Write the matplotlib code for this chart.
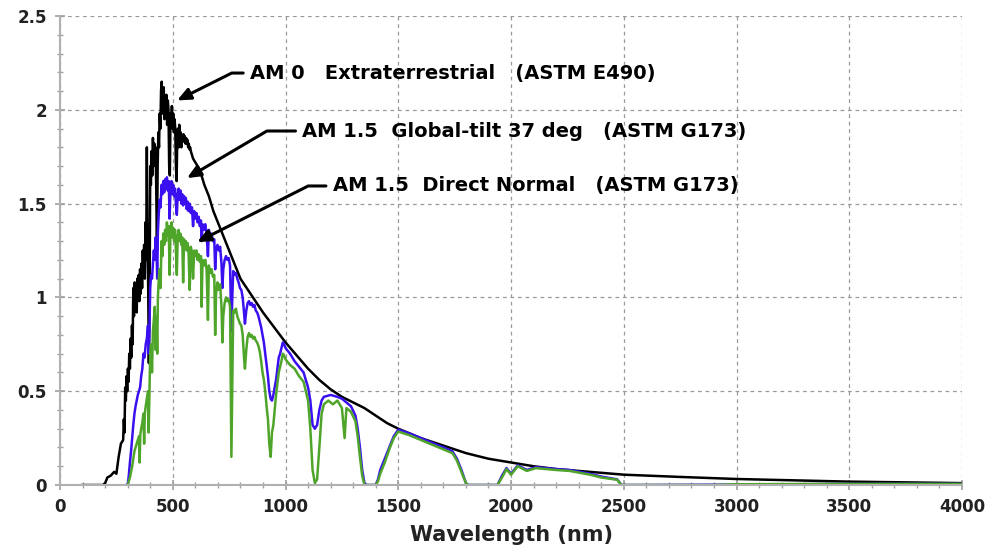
import matplotlib
matplotlib.use("Agg")
import matplotlib.pyplot as plt
from matplotlib.ticker import MultipleLocator

# spectral irradiance: (wavelength nm, W m-2 nm-1)
# AM 0 extraterrestrial (ASTM E490)
am0 = [(100, 0), (150, 0), (190, 0), (200, 0.01), (210, 0.04), (225, 0.05), (240, 0.07), (250, 0.06),
       (260, 0.15), (270, 0.22), (280, 0.24), (283, 0.35), (286, 0.28), (289, 0.52), (292, 0.45),
       (295, 0.58), (298, 0.50), (301, 0.62), (304, 0.55), (307, 0.70), (310, 0.62), (313, 0.78),
       (316, 0.68), (319, 0.85), (322, 0.75), (325, 1.05), (328, 0.90), (331, 1.08), (334, 0.95),
       (337, 1.05), (340, 0.92), (343, 1.10), (346, 1.00), (349, 1.12), (352, 0.98), (355, 1.15),
       (358, 1.02), (361, 1.18), (364, 1.05), (367, 1.25), (370, 1.12), (373, 1.28), (376, 1.10),
       (379, 1.40), (382, 1.20), (385, 1.80), (388, 1.30), (391, 1.05), (394, 0.65), (397, 0.95),
       (400, 1.70), (403, 1.60), (406, 1.78), (409, 1.65), (412, 1.85), (415, 1.70), (418, 1.82),
       (421, 1.72), (424, 1.80), (427, 1.55), (430, 1.25), (433, 1.70), (436, 1.88), (439, 1.80),
       (442, 1.98), (445, 1.90), (448, 2.10), (451, 2.15), (454, 1.98), (457, 2.08), (460, 2.12),
       (463, 1.95), (466, 2.05), (469, 2.00), (472, 2.08), (475, 1.92), (478, 2.05), (481, 2.00),
       (484, 1.70), (487, 1.65), (490, 1.98), (493, 1.92), (496, 2.02), (499, 1.90), (502, 1.98),
       (505, 1.88), (508, 1.95), (511, 1.90), (514, 1.70), (517, 1.62), (520, 1.85), (523, 1.90),
       (526, 1.80), (529, 1.92), (532, 1.85), (535, 1.88), (538, 1.80), (541, 1.86), (544, 1.84),
       (547, 1.87), (550, 1.83), (553, 1.86), (556, 1.82), (559, 1.85), (562, 1.82), (565, 1.84),
       (568, 1.80), (571, 1.82), (574, 1.79), (577, 1.80), (580, 1.78), (585, 1.76), (590, 1.74),
       (600, 1.72), (620, 1.68), (640, 1.60), (660, 1.54), (680, 1.46), (700, 1.40), (720, 1.34),
       (750, 1.25), (780, 1.16), (800, 1.10), (850, 1.01), (900, 0.92), (950, 0.84), (1000, 0.76),
       (1050, 0.69), (1100, 0.62), (1150, 0.56), (1200, 0.51), (1250, 0.47), (1300, 0.44),
       (1350, 0.41), (1400, 0.37), (1450, 0.33), (1500, 0.30), (1600, 0.25), (1700, 0.21),
       (1800, 0.17), (1900, 0.14), (2000, 0.12), (2100, 0.10), (2200, 0.085), (2300, 0.075),
       (2400, 0.065), (2500, 0.055), (2750, 0.043), (3000, 0.032), (3250, 0.025), (3500, 0.018),
       (3750, 0.014), (4000, 0.010)]

# AM 1.5 global tilt 37 deg (ASTM G173)
am15_global = [(295, 0), (300, 0), (305, 0.05), (310, 0.12), (315, 0.18), (320, 0.25), (325, 0.32),
               (330, 0.38), (335, 0.42), (340, 0.45), (345, 0.48), (350, 0.50), (355, 0.52), (360, 0.58),
               (365, 0.62), (370, 0.70), (375, 0.68), (380, 0.75), (385, 0.78), (390, 0.85), (393, 0.70),
               (396, 0.80), (400, 1.05), (404, 1.12), (408, 1.10), (412, 1.18), (416, 1.25), (420, 1.20),
               (424, 1.32), (428, 1.25), (431, 1.10), (434, 1.35), (438, 1.45), (442, 1.52), (446, 1.48),
               (450, 1.60), (454, 1.55), (458, 1.62), (462, 1.56), (466, 1.63), (470, 1.58), (474, 1.64),
               (478, 1.57), (482, 1.62), (486, 1.42), (490, 1.58), (494, 1.62), (498, 1.55), (502, 1.60),
               (506, 1.54), (510, 1.58), (514, 1.50), (518, 1.44), (522, 1.55), (526, 1.58), (530, 1.52),
               (534, 1.57), (538, 1.50), (542, 1.55), (546, 1.49), (550, 1.54), (554, 1.50), (558, 1.53),
               (562, 1.47), (566, 1.51), (570, 1.46), (575, 1.50), (580, 1.45), (585, 1.48), (590, 1.38),
               (595, 1.46), (600, 1.42), (605, 1.45), (610, 1.40), (615, 1.43), (620, 1.38), (625, 1.41),
               (628, 1.30), (632, 1.39), (638, 1.36), (644, 1.39), (650, 1.34), (656, 1.22), (660, 1.36),
               (666, 1.32), (672, 1.34), (678, 1.30), (684, 1.31), (688, 1.15), (692, 1.25), (698, 1.28),
               (704, 1.25), (710, 1.27), (716, 1.18), (720, 1.05), (724, 1.15), (730, 1.20), (736, 1.22),
               (742, 1.20), (748, 1.21), (754, 1.17), (760, 0.82), (764, 1.00), (768, 1.14), (774, 1.12),
               (780, 1.13), (786, 1.10), (792, 1.08), (798, 1.05), (804, 1.04), (810, 1.00), (816, 0.92),
               (820, 0.86), (826, 0.93), (832, 0.97), (838, 0.98), (844, 0.96), (850, 0.97), (856, 0.95),
               (862, 0.96), (868, 0.93), (874, 0.92), (880, 0.90), (886, 0.87), (892, 0.84), (898, 0.80),
               (904, 0.76), (910, 0.70), (916, 0.64), (922, 0.58), (928, 0.50), (934, 0.46), (940, 0.45),
               (946, 0.48), (952, 0.52), (958, 0.56), (964, 0.62), (970, 0.68), (976, 0.70), (982, 0.73),
               (988, 0.76), (994, 0.75), (1000, 0.73), (1020, 0.70), (1040, 0.66), (1060, 0.63),
               (1080, 0.60), (1100, 0.52), (1110, 0.45), (1120, 0.32), (1130, 0.30), (1140, 0.32),
               (1150, 0.40), (1160, 0.45), (1170, 0.47), (1200, 0.48), (1230, 0.47), (1250, 0.46),
               (1270, 0.44), (1290, 0.42), (1310, 0.37), (1320, 0.30), (1330, 0.20), (1340, 0.08),
               (1350, 0.01), (1360, 0), (1400, 0), (1410, 0.03), (1420, 0.08), (1440, 0.14), (1460, 0.20),
               (1480, 0.26), (1500, 0.295), (1550, 0.275), (1600, 0.25), (1650, 0.225), (1700, 0.20),
               (1740, 0.18), (1760, 0.14), (1780, 0.08), (1800, 0.01), (1810, 0), (1940, 0), (1960, 0.05),
               (1980, 0.09), (2000, 0.06), (2030, 0.105), (2070, 0.08), (2110, 0.095), (2200, 0.085),
               (2260, 0.08), (2350, 0.06), (2400, 0.045), (2470, 0.03), (2490, 0), (2550, 0),
               (3000, 0.002), (3500, 0.006), (4000, 0.006)]

# AM 1.5 direct normal (ASTM G173)
am15_direct = [(300, 0), (305, 0.02), (310, 0.04), (315, 0.07), (320, 0.10), (325, 0.14), (330, 0.18),
               (335, 0.20), (340, 0.22), (345, 0.24), (350, 0.26), (353, 0.12), (356, 0.27), (360, 0.30),
               (365, 0.33), (370, 0.38), (373, 0.22), (376, 0.38), (380, 0.42), (385, 0.46), (390, 0.50),
               (393, 0.28), (396, 0.45), (400, 0.70), (404, 0.75), (408, 0.60), (412, 0.82), (416, 0.88),
               (420, 0.95), (424, 0.72), (428, 0.90), (431, 0.70), (434, 1.00), (438, 1.10), (442, 1.15),
               (446, 1.05), (450, 1.30), (454, 1.22), (458, 1.34), (462, 1.28), (466, 1.36), (470, 1.30),
               (474, 1.40), (478, 1.33), (482, 1.38), (486, 1.12), (490, 1.36), (494, 1.40), (498, 1.32),
               (502, 1.37), (506, 1.30), (510, 1.36), (514, 1.25), (518, 1.12), (522, 1.33), (526, 1.36),
               (530, 1.30), (534, 1.34), (538, 1.28), (542, 1.32), (546, 1.08), (550, 1.31), (554, 1.27),
               (558, 1.30), (562, 1.25), (566, 1.29), (570, 1.24), (575, 1.04), (580, 1.27), (585, 1.24),
               (590, 1.10), (595, 1.25), (600, 1.22), (605, 1.25), (610, 1.20), (615, 1.23), (620, 1.19),
               (625, 1.22), (628, 0.95), (632, 1.20), (638, 1.17), (644, 1.20), (650, 1.15), (656, 0.88),
               (660, 1.17), (666, 1.13), (672, 1.15), (678, 1.11), (684, 1.12), (688, 0.80), (692, 1.02),
               (698, 1.08), (704, 1.04), (710, 1.07), (716, 0.95), (720, 0.76), (724, 0.90), (730, 0.97),
               (736, 1.00), (742, 0.98), (748, 0.99), (754, 0.95), (760, 0.15), (764, 0.55), (768, 0.93),
               (774, 0.92), (780, 0.94), (786, 0.90), (792, 0.88), (798, 0.86), (804, 0.85), (810, 0.80),
               (816, 0.68), (820, 0.62), (826, 0.72), (832, 0.79), (838, 0.81), (844, 0.79), (850, 0.80),
               (856, 0.78), (862, 0.79), (868, 0.77), (874, 0.76), (880, 0.74), (886, 0.71), (892, 0.66),
               (898, 0.60), (904, 0.56), (910, 0.50), (916, 0.42), (922, 0.35), (928, 0.22), (934, 0.15),
               (940, 0.28), (946, 0.32), (952, 0.40), (958, 0.48), (964, 0.54), (970, 0.60), (976, 0.63),
               (982, 0.66), (988, 0.70), (994, 0.69), (1000, 0.67), (1020, 0.64), (1040, 0.62),
               (1060, 0.58), (1080, 0.55), (1100, 0.45), (1110, 0.30), (1120, 0.08), (1130, 0.01),
               (1140, 0.03), (1150, 0.20), (1160, 0.38), (1170, 0.43), (1190, 0.45), (1210, 0.43),
               (1230, 0.45), (1250, 0.41), (1262, 0.25), (1270, 0.41), (1290, 0.39), (1310, 0.34),
               (1320, 0.26), (1330, 0.15), (1340, 0.05), (1350, 0), (1400, 0), (1410, 0.02), (1420, 0.06),
               (1440, 0.12), (1460, 0.19), (1480, 0.25), (1500, 0.285), (1550, 0.265), (1600, 0.24),
               (1650, 0.215), (1700, 0.19), (1740, 0.17), (1760, 0.13), (1780, 0.07), (1800, 0.01),
               (1810, 0), (1940, 0), (1960, 0.04), (1980, 0.085), (2000, 0.055), (2030, 0.10),
               (2070, 0.075), (2110, 0.09), (2200, 0.08), (2260, 0.075), (2350, 0.055), (2400, 0.04),
               (2470, 0.028), (2490, 0), (2550, 0), (2900, 0), (3000, 0.004), (3500, 0.006), (4000, 0.006)]

labels = ['AM 0   Extraterrestrial   (ASTM E490)',
          'AM 1.5  Global-tilt 37 deg   (ASTM G173)',
          'AM 1.5  Direct Normal   (ASTM G173)']

fig = plt.figure(figsize=(9.92, 5.56), dpi=100)
ax = fig.add_axes([0.0605, 0.1277, 0.9093, 0.8435])

for data, col in [(am0, 'black'), (am15_global, '#3a10f0'), (am15_direct, '#4fa52a')]:
    wl, irr = zip(*data)
    ax.plot(wl, irr, color=col, lw=1.8)

ax.set_xlim(0, 4000)
ax.set_ylim(0, 2.5)
ax.xaxis.set_major_locator(MultipleLocator(500))
ax.xaxis.set_minor_locator(MultipleLocator(100))
ax.yaxis.set_minor_locator(MultipleLocator(0.1))
ax.set_yticks([0, 0.5, 1, 1.5, 2, 2.5])
ax.set_yticklabels(['0', '0.5', '1', '1.5', '2', '2.5'])

ax.grid(True, which='major', color='#9a9a9a', ls=(0, (3, 3)), lw=0.9)
for s in ['top', 'right']:
    ax.spines[s].set_visible(False)
for s in ['left', 'bottom']:
    ax.spines[s].set_color('#b0b0b0')
    ax.spines[s].set_linewidth(1.5)
ax.tick_params(which='both', direction='inout', colors='#a0a0a0', labelcolor='#222222')
ax.tick_params(which='major', length=7, width=1.2, labelsize=12, pad=6)
ax.tick_params(which='minor', length=5, width=1.0)
for lab in ax.get_xticklabels() + ax.get_yticklabels():
    lab.set_fontweight('bold')

ax.set_xlabel('Wavelength (nm)', fontsize=15, fontweight='bold', color='#222222', labelpad=6)

afont = dict(fontsize=14, fontweight='bold', va='center', ha='left')
arrow = dict(arrowstyle='-|>,head_length=0.5,head_width=0.22', color='black', lw=2.2,
             mutation_scale=16, shrinkA=3, shrinkB=0)

ax.annotate(labels[0], xy=(519, 2.05), xytext=(843, 2.196),
            arrowprops=dict(connectionstyle='angle,angleA=0,angleB=26.6,rad=0', **arrow), **afont)
ax.annotate(labels[1], xy=(563, 1.636), xytext=(1075, 1.887),
            arrowprops=dict(connectionstyle='angle,angleA=0,angleB=30.5,rad=0', **arrow), **afont)
ax.annotate(labels[2], xy=(608, 1.295), xytext=(1210, 1.594),
            arrowprops=dict(connectionstyle='angle,angleA=0,angleB=26.8,rad=0', **arrow), **afont)

fig.savefig('out.png', dpi=100)
